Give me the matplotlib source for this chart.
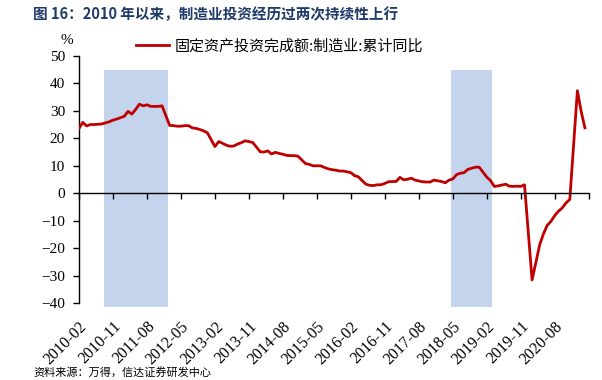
import matplotlib
matplotlib.use("Agg")
from matplotlib import pyplot as plt
import numpy as np

# monthly cumulative yoy (%), Feb..Dec each year (Jan not published)
years = list(range(2010, 2021))
v2010 = [23.6, 25.8, 24.5, 25.0, 25.0, 25.1, 25.2, 25.6, 26.0, 26.6, 27.0]
v2011 = [28.0, 29.8, 28.8, 30.5, 32.4, 31.8, 32.2, 31.6, 31.6, 31.6, 31.8]
v2012 = [24.7, 24.6, 24.4, 24.4, 24.6, 24.6, 23.8, 23.6, 23.2, 22.7, 22.0]
v2013 = [17.0, 18.8, 18.2, 17.5, 17.1, 17.2, 17.9, 18.4, 19.1, 18.8, 18.5]
v2014 = [15.1, 15.0, 15.4, 14.3, 14.9, 14.5, 14.2, 13.8, 13.7, 13.7, 13.5]
v2015 = [10.8, 10.5, 10.0, 10.0, 10.0, 9.4, 8.9, 8.6, 8.4, 8.1, 8.1]
v2016 = [7.5, 6.4, 6.0, 4.6, 3.3, 2.9, 2.8, 3.1, 3.1, 3.6, 4.2]
v2017 = [4.3, 5.8, 4.9, 5.1, 5.5, 4.8, 4.5, 4.2, 4.1, 4.1, 4.8]
v2018 = [4.3, 3.8, 4.8, 5.2, 6.8, 7.3, 7.5, 8.7, 9.1, 9.5, 9.5]
v2019 = [5.9, 4.6, 2.5, 2.7, 3.0, 3.3, 2.6, 2.5, 2.6, 2.5, 3.1]
v2020 = [-31.5, -25.2, -18.8, -14.8, -11.7, -10.2, -8.1, -6.5, -5.3, -3.5, -2.2]
v2021 = [37.3, 29.8, 23.8]  # Feb..Apr

tick_labels = ["2010-02", "2010-11", "2011-08", "2012-05", "2013-02", "2013-11",
               "2014-08", "2015-05", "2016-02", "2016-11", "2017-08", "2018-05",
               "2019-02", "2019-11", "2020-08", ""]

# shaded periods (first month, last month)
shade_periods = [("2010-09", "2012-01"), ("2018-05", "2019-03")]

series_name = "固定资产投资完成额:制造业:累计同比"


def month_idx(s):
    y, m = s.split("-")
    return (int(y) - 2010) * 12 + int(m) - 2


x = []
vals = []
for y, vs in zip(years + [2021], [v2010, v2011, v2012, v2013, v2014, v2015,
                                  v2016, v2017, v2018, v2019, v2020, v2021]):
    for k, v in enumerate(vs):
        x.append((y - 2010) * 12 + k)
        vals.append(v)
x = np.array(x)
vals = np.array(vals)

plt.rcParams['font.family'] = ['Liberation Serif', 'Noto Sans CJK SC']

fig = plt.figure(figsize=(6.02, 3.8), dpi=100)
ax = fig.add_axes([79 / 602, 1 - 303.3 / 380, (588.7 - 79) / 602, (303.3 - 55.8) / 380])

for a, b in shade_periods:
    s, e = month_idx(a) - 0.5, month_idx(b) + 0.5
    ax.bar((s + e) / 2, 86.5, bottom=-41.5, width=e - s, color="#c5d4ed",
           zorder=1, clip_on=False)

ax.plot(x, vals, color="#c00000", lw=2.0, zorder=3, label=series_name)

ax.set_xlim(0, 135)
ax.set_ylim(-40, 50)
ax.set_yticks(np.arange(-40, 51, 10))
ax.tick_params(axis="y", direction="out", length=4, width=1, labelsize=11, pad=6)

ax.spines["top"].set_visible(False)
ax.spines["right"].set_visible(False)
ax.spines["bottom"].set_visible(False)
ax.spines["left"].set_linewidth(1.0)

ticks = np.arange(0, 136, 9)
ax.set_xticks(ticks)
ax.set_xticklabels(tick_labels, rotation=45, ha="right", rotation_mode="anchor",
                   fontsize=11.5)
ax.tick_params(axis="x", length=0, pad=11)

# zero line axis with ticks
sec = ax.secondary_xaxis(0, transform=ax.transData)
sec.set_xticks(ticks)
sec.set_xticklabels([])
sec.tick_params(axis="x", direction="out", length=4, width=1)
sec.spines["bottom"].set_linewidth(1.0)
sec.set_zorder(4)

fig.text(67 / 602, 1 - 40 / 380, "%", fontsize=11, ha="center", va="center")

ax.legend(loc="upper left", bbox_to_anchor=(130 / 602, 1 - 33 / 380),
          bbox_transform=fig.transFigure, frameon=False,
          handlelength=2.2, handletextpad=0.4, borderaxespad=0,
          prop={"family": ["Noto Sans CJK SC"], "size": 10.8})

fig.text(33 / 602, 1 - 14 / 380, "图 16：2010 年以来，制造业投资经历过两次持续性上行",
         fontsize=10.5, fontweight="bold", color="#1f3a68", ha="left", va="center",
         family=["Noto Sans CJK SC"])

fig.text(33 / 602, 1 - 367 / 380, "资料来源：万得，信达证券研发中心", fontsize=8,
         ha="left", va="top", style="italic", family=["Noto Sans CJK SC"])

fig.savefig("out.png", dpi=100)
